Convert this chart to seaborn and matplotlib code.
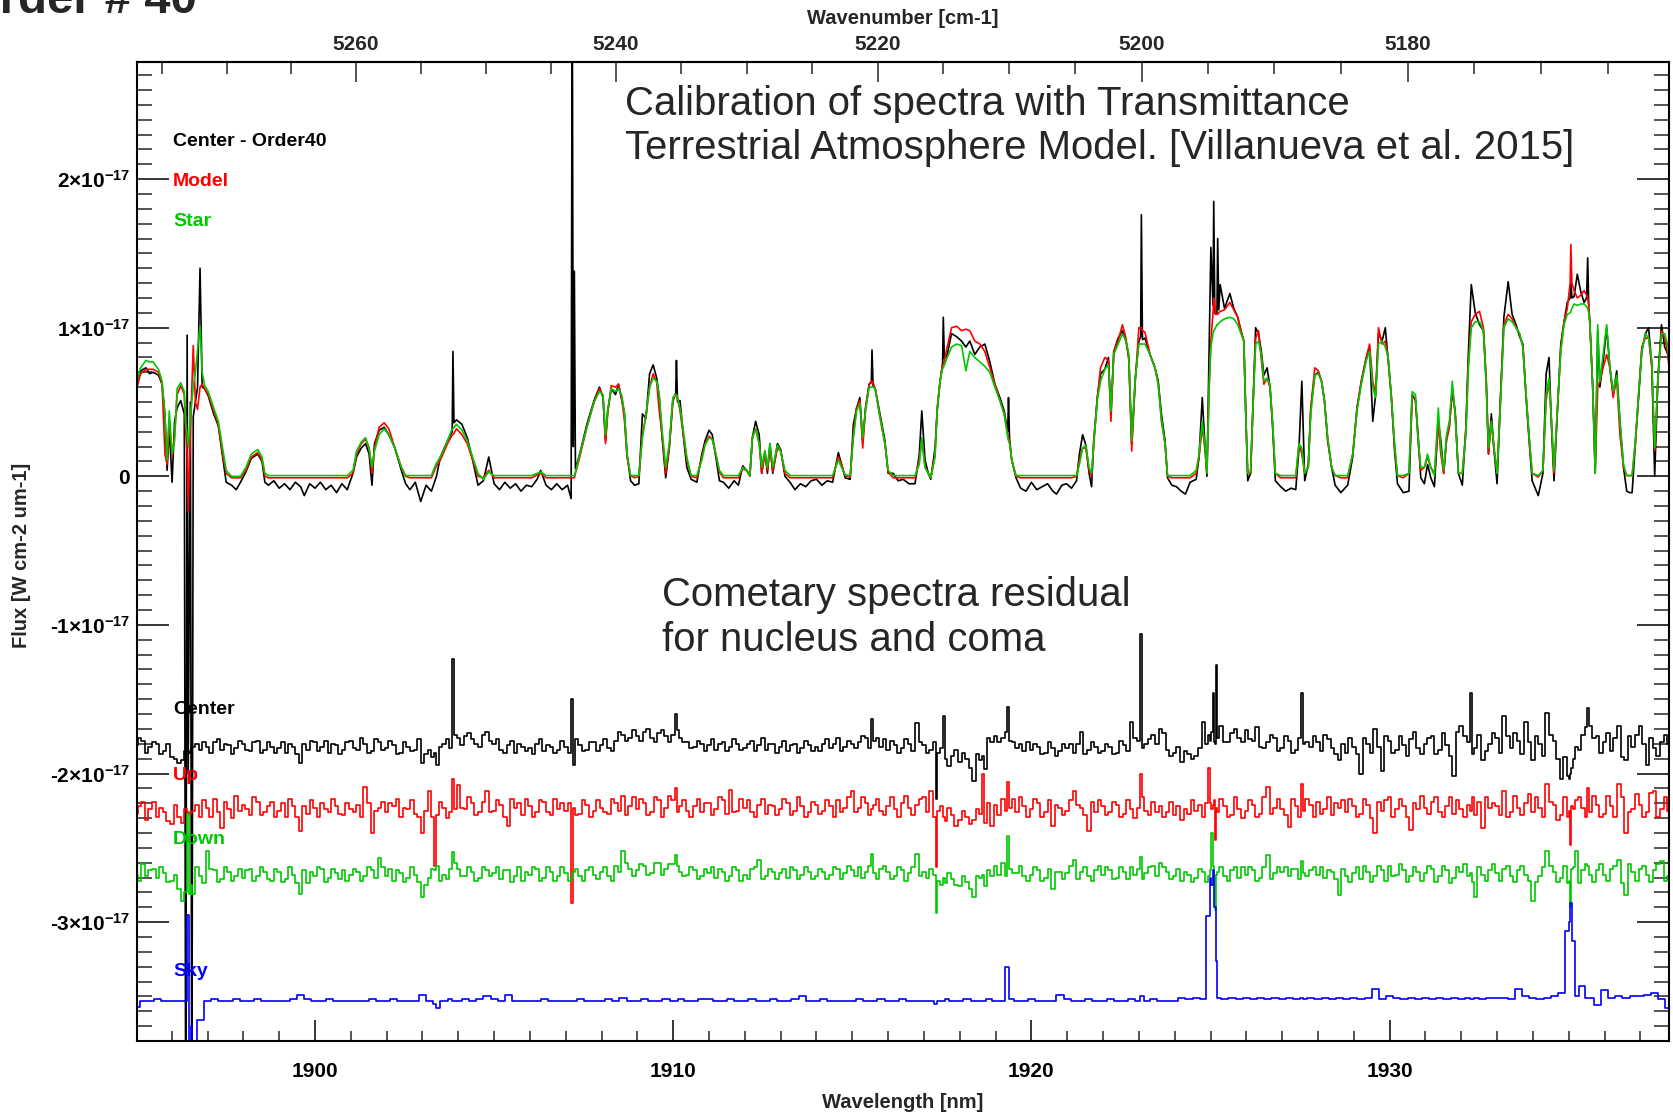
import numpy as np
import pandas as pd
import matplotlib
matplotlib.use("Agg")
import matplotlib.pyplot as plt
import seaborn as sns
from matplotlib.ticker import FixedLocator, MultipleLocator, FuncFormatter

# ---------------- data (flux in units of 1e-18 W cm-2 um-1) ----------------
SCALE = 1e-18

top_wl = [
    1895.03, 1895.13, 1895.28, 1895.38, 1895.48, 1895.63, 1895.73, 1895.81,
    1895.87, 1895.93, 1896.01, 1896.08, 1896.15, 1896.25, 1896.35, 1896.39,
    1896.43, 1896.46, 1896.52, 1896.56, 1896.60, 1896.66, 1896.72, 1896.79, 1896.85,
    1896.92, 1897.02, 1897.17, 1897.30, 1897.42, 1897.52, 1897.67, 1897.80,
    1897.92, 1898.07, 1898.22, 1898.40, 1898.52, 1898.60, 1898.70, 1898.85,
    1899.00, 1899.15, 1899.30, 1899.45, 1899.60, 1899.70, 1899.85, 1900.00,
    1900.15, 1900.30, 1900.45, 1900.60, 1900.75, 1900.90, 1901.06, 1901.16,
    1901.29, 1901.41, 1901.51, 1901.59, 1901.66, 1901.79, 1901.93, 1902.06,
    1902.23, 1902.41, 1902.53, 1902.65, 1902.80, 1902.95, 1903.10, 1903.25,
    1903.39, 1903.50, 1903.70, 1903.83, 1903.85, 1903.88, 1903.95, 1904.10,
    1904.25, 1904.40, 1904.55, 1904.70, 1904.85, 1905.00, 1905.15, 1905.30,
    1905.45, 1905.60, 1905.75, 1905.90, 1906.05, 1906.20, 1906.30, 1906.45,
    1906.60, 1906.75, 1906.90, 1907.05, 1907.15, 1907.18, 1907.21, 1907.24,
    1907.27, 1907.39, 1907.59, 1907.79, 1907.94, 1908.04, 1908.11, 1908.17,
    1908.27, 1908.39, 1908.47, 1908.57, 1908.64, 1908.71, 1908.81, 1908.92,
    1909.04, 1909.14, 1909.24, 1909.34, 1909.44, 1909.54, 1909.61, 1909.69,
    1909.79, 1909.89, 1909.99, 1910.07, 1910.09, 1910.12, 1910.19, 1910.28,
    1910.38, 1910.50, 1910.66, 1910.80, 1910.89, 1911.00, 1911.09, 1911.19,
    1911.29, 1911.40, 1911.55, 1911.70, 1911.82, 1911.94, 1912.05, 1912.14,
    1912.21, 1912.30, 1912.40, 1912.47, 1912.56, 1912.63, 1912.70, 1912.78,
    1912.91, 1913.00, 1913.12, 1913.26, 1913.40, 1913.55, 1913.70, 1913.85,
    1914.00, 1914.15, 1914.30, 1914.45, 1914.61, 1914.70, 1914.80, 1914.94,
    1915.03, 1915.12, 1915.21, 1915.29, 1915.37, 1915.47, 1915.53, 1915.55,
    1915.58, 1915.64, 1915.77, 1915.91, 1916.00, 1916.14, 1916.28, 1916.42,
    1916.58, 1916.75, 1916.87, 1916.94, 1917.03, 1917.12, 1917.19, 1917.31,
    1917.37, 1917.45, 1917.52, 1917.54, 1917.57, 1917.65, 1917.77, 1917.91,
    1918.05, 1918.17, 1918.28, 1918.42, 1918.56, 1918.70, 1918.84, 1918.98,
    1919.12, 1919.24, 1919.34, 1919.36, 1919.39, 1919.45, 1919.57, 1919.70,
    1919.85, 1920.00, 1920.15, 1920.30, 1920.45, 1920.60, 1920.70, 1920.85,
    1920.98, 1921.12, 1921.26, 1921.34, 1921.43, 1921.52, 1921.61, 1921.68,
    1921.74, 1921.84, 1921.93, 1922.05, 1922.15, 1922.22, 1922.30, 1922.42,
    1922.54, 1922.64, 1922.72, 1922.80, 1922.90, 1923.00, 1923.05, 1923.07,
    1923.10, 1923.17, 1923.31, 1923.45, 1923.54, 1923.63, 1923.73, 1923.80,
    1923.92, 1924.05, 1924.18, 1924.30, 1924.43, 1924.60, 1924.68, 1924.77,
    1924.85, 1924.90, 1924.96, 1925.01, 1925.07, 1925.09, 1925.12, 1925.14,
    1925.18, 1925.20, 1925.23, 1925.27, 1925.39, 1925.54, 1925.65, 1925.76,
    1925.85, 1925.93, 1925.99, 1926.04, 1926.12, 1926.17, 1926.26, 1926.34,
    1926.42, 1926.49, 1926.58, 1926.66, 1926.73, 1926.81, 1926.96, 1927.10,
    1927.25, 1927.38, 1927.47, 1927.55, 1927.63, 1927.73, 1927.80, 1927.91,
    1928.01, 1928.10, 1928.18, 1928.27, 1928.38, 1928.48, 1928.64, 1928.75,
    1928.83, 1928.97, 1929.09, 1929.21, 1929.35, 1929.44, 1929.53, 1929.61,
    1929.69, 1929.79, 1929.88, 1929.96, 1930.05, 1930.14, 1930.22, 1930.38,
    1930.54, 1930.63, 1930.72, 1930.80, 1930.87, 1930.97, 1931.06, 1931.15,
    1931.25, 1931.36, 1931.43, 1931.51, 1931.59, 1931.67, 1931.75, 1931.83,
    1931.92, 1932.03, 1932.13, 1932.20, 1932.28, 1932.39, 1932.51, 1932.62,
    1932.70, 1932.76, 1932.84, 1932.91, 1933.00, 1933.09, 1933.19, 1933.31,
    1933.42, 1933.53, 1933.63, 1933.72, 1933.81, 1933.91, 1933.98, 1934.15,
    1934.28, 1934.37, 1934.45, 1934.52, 1934.59, 1934.68, 1934.78, 1934.87,
    1934.96, 1935.04, 1935.06, 1935.09, 1935.15, 1935.24, 1935.34, 1935.43,
    1935.50, 1935.53, 1935.56, 1935.59, 1935.67, 1935.74, 1935.81, 1935.87,
    1935.96, 1936.06, 1936.15, 1936.24, 1936.34, 1936.43, 1936.53, 1936.62,
    1936.70, 1936.77, 1936.86, 1936.95, 1937.04, 1937.14, 1937.23, 1937.32,
    1937.40, 1937.49, 1937.59, 1937.68, 1937.77, 1937.87,
]

top_model = [
    6.0, 6.9, 7.2, 7.2, 7.2, 7.0, 6.2, 1.5,
    0.8, 3.7, 1.3, 2.8, 5.5, 6.1, 5.5, 3.0,
    1.5, -2.4, 3.0, 6.0, 8.8, 5.0, 4.5, 6.0, 6.2,
    5.9, 5.5, 4.4, 3.5, 1.5, 0.2, -0.1, -0.1,
    -0.1, 0.4, 1.3, 1.6, 1.1, 0.0, -0.1, -0.1,
    -0.1, -0.1, -0.1, -0.1, -0.1, -0.1, -0.1, -0.1,
    -0.1, -0.1, -0.1, -0.1, -0.1, -0.1, 0.2, 1.5,
    2.2, 2.5, 1.9, 0.2, 1.9, 3.3, 3.6, 3.2,
    1.9, 0.6, 0.0, -0.1, -0.1, -0.1, -0.1, -0.1,
    0.7, 1.1, 2.2, 2.8, 2.8, 2.9, 3.2, 2.8,
    2.2, 1.1, 0.0, -0.1, 0.4, -0.1, -0.1, -0.1,
    -0.1, -0.1, -0.1, -0.1, -0.1, 0.1, 0.2, -0.1,
    -0.1, -0.1, -0.1, -0.1, -0.1, -0.1, -0.1, -0.1,
    0.2, 1.3, 3.3, 5.0, 5.9, 5.4, 2.2, 4.2,
    6.1, 6.0, 6.2, 5.1, 3.7, 1.3, 0.05, -0.1,
    0.0, 2.8, 4.1, 6.0, 6.9, 6.3, 4.4, 2.8,
    0.2, 1.9, 5.1, 5.5, 5.5, 5.3, 4.4, 2.8,
    1.1, 0.0, -0.1, 1.3, 2.2, 2.7, 2.5, 1.5,
    0.3, -0.1, -0.1, -0.1, -0.1, 0.5, 0.4, 0.0,
    2.6, 3.2, 2.2, 0.2, 1.5, 0.4, 1.9, 0.3,
    1.9, 1.7, 0.2, -0.1, -0.1, -0.1, -0.1, -0.1,
    -0.1, -0.1, -0.1, -0.1, 1.3, 0.8, 0.05, -0.05,
    2.8, 4.6, 5.1, 1.9, 4.6, 6.2, 6.4, 6.4,
    6.3, 5.9, 4.0, 2.2, 0.3, -0.1, -0.1, -0.1,
    -0.1, -0.1, 1.1, 2.4, 0.6, 0.2, -0.1, 1.5,
    4.6, 6.4, 7.5, 7.5, 7.8, 8.7, 10.0, 10.1,
    9.8, 9.9, 9.8, 9.1, 8.9, 8.4, 7.3, 6.2,
    5.1, 4.2, 2.8, 2.6, 2.3, 1.1, 0.0, -0.1,
    -0.1, -0.1, -0.1, -0.1, -0.1, -0.1, -0.1, -0.1,
    -0.1, -0.1, 0.0, 1.1, 1.9, 1.9, 0.4, 0.0,
    2.2, 5.3, 7.3, 8.0, 7.8, 3.7, 8.4, 9.1,
    10.2, 9.3, 7.8, 1.7, 6.4, 10.0, 10.0, 10.0,
    9.8, 9.7, 8.2, 7.3, 6.2, 3.7, 2.2, 0.0,
    -0.1, -0.1, -0.1, -0.1, -0.1, 0.2, 1.3, 3.3,
    1.7, 0.2, 5.7, 9.1, 11.0, 12.0, 11.5, 10.9,
    10.9, 10.9, 11.0, 11.1, 11.2, 11.7, 11.2, 10.7,
    9.8, 9.1, 3.7, 0.2, 0.2, 3.7, 9.3, 9.8,
    7.8, 6.2, 6.6, 6.0, 3.7, 0.2, -0.1, -0.1,
    -0.1, -0.1, 2.2, 1.5, 0.2, 0.6, 4.6, 7.3,
    7.1, 6.4, 5.1, 2.6, 0.6, 0.05, -0.1, -0.1,
    -0.1, 1.5, 4.6, 6.4, 8.0, 8.9, 6.4, 5.5,
    10.0, 8.9, 9.1, 8.0, 5.3, 1.9, 0.05, -0.1,
    0.2, 5.3, 5.3, 2.2, 0.4, 0.6, 1.3, 0.6,
    0.2, 3.5, 1.5, 0.2, 2.4, 3.3, 6.0, 4.2,
    0.2, 0.2, 3.1, 7.8, 10.4, 10.9, 11.1, 10.0,
    6.4, 1.5, 3.7, 1.9, 0.2, 5.1, 10.2, 10.9,
    10.6, 10.0, 9.6, 8.7, 5.5, 2.2, 0.2, -0.05,
    0.4, 5.1, 6.4, 3.7, 0.2, 4.2, 8.7, 10.4,
    11.3, 13.0, 15.6, 13.0, 12.5, 12.0, 12.2, 12.5,
    12.2, 12.0, 11.5, 10.2, 6.0, 0.4, 6.0, 6.4,
    7.3, 8.2, 7.3, 5.3, 6.6, 2.8, 0.6, 0.05,
    0.05, 0.05, 2.2, 5.5, 8.7, 9.3, 9.3, 7.3,
    1.7, 6.4, 9.8, 9.3, 8.2, 5.3,
]

top_star = [
    6.4, 7.3, 7.8, 7.7, 7.7, 7.2, 6.4, 4.2,
    1.1, 4.4, 1.5, 2.4, 5.9, 6.3, 5.7, 3.5,
    2.8, 2.0, 4.0, 5.0, 6.0, 7.0, 8.5, 10.1, 7.0,
    6.1, 5.7, 4.6, 3.7, 1.9, 0.4, 0.0, 0.0,
    0.0, 0.6, 1.5, 1.8, 1.3, 0.2, 0.05, 0.05,
    0.05, 0.05, 0.05, 0.05, 0.05, 0.05, 0.05, 0.05,
    0.05, 0.05, 0.05, 0.05, 0.05, 0.05, 0.4, 1.7,
    2.3, 2.6, 1.9, 0.6, 1.7, 2.8, 3.2, 2.8,
    1.9, 0.6, 0.05, 0.05, 0.05, 0.05, 0.05, 0.05,
    0.9, 1.3, 2.4, 3.2, 3.2, 3.3, 3.5, 3.1,
    2.4, 1.3, 0.2, -0.2, 0.3, 0.05, 0.05, 0.05,
    0.05, 0.05, 0.05, 0.05, 0.05, 0.2, 0.3, 0.05,
    0.05, 0.05, 0.05, 0.05, 0.05, 0.05, 0.05, 0.05,
    0.3, 1.5, 3.3, 5.0, 5.7, 5.5, 2.8, 4.4,
    5.9, 5.7, 5.9, 5.4, 4.2, 1.5, 0.05, 0.05,
    0.05, 2.6, 4.1, 6.0, 6.6, 6.4, 5.5, 3.1,
    0.6, 2.2, 5.3, 5.5, 5.5, 5.2, 4.6, 3.1,
    1.3, 0.05, 0.05, 1.1, 2.1, 2.6, 2.5, 1.5,
    0.4, 0.05, 0.05, 0.05, 0.05, 0.6, 0.4, 0.05,
    2.6, 3.2, 2.2, 0.6, 1.7, 0.6, 2.2, 0.6,
    2.1, 1.7, 0.4, 0.05, 0.05, 0.05, 0.05, 0.05,
    0.05, 0.05, 0.05, 0.05, 1.1, 0.6, 0.1, 0.05,
    2.6, 4.4, 4.9, 2.6, 4.4, 6.0, 6.0, 6.0,
    6.0, 5.9, 4.0, 2.2, 0.4, 0.05, 0.05, 0.05,
    0.05, 0.05, 0.8, 2.6, 0.6, 0.2, -0.1, 1.3,
    4.6, 6.4, 7.3, 7.3, 7.5, 8.0, 8.7, 8.9,
    8.8, 7.1, 8.4, 8.0, 7.7, 7.4, 7.0, 6.0,
    5.1, 4.2, 2.6, 2.4, 2.2, 1.1, 0.05, 0.05,
    0.05, 0.05, 0.05, 0.05, 0.05, 0.05, 0.05, 0.05,
    0.05, 0.05, 0.05, 0.8, 1.9, 2.1, 0.6, 0.2,
    2.2, 5.1, 6.4, 7.2, 7.5, 4.4, 8.2, 8.9,
    9.6, 9.1, 8.2, 2.4, 6.6, 8.9, 8.9, 8.9,
    8.9, 8.9, 8.2, 7.3, 6.2, 3.9, 2.2, 0.05,
    0.05, 0.05, 0.05, 0.05, 0.05, 0.4, 1.5, 3.7,
    1.9, 0.2, 6.0, 8.7, 9.6, 9.8, 9.9, 10.0,
    10.2, 10.2, 10.3, 10.4, 10.6, 10.7, 10.6, 10.2,
    9.6, 9.1, 3.7, 0.2, 0.3, 3.7, 8.9, 9.1,
    8.2, 6.4, 6.6, 6.2, 3.7, 0.2, 0.05, 0.05,
    0.05, 0.05, 2.2, 1.9, 0.2, 0.6, 4.2, 6.8,
    6.9, 6.4, 5.1, 2.6, 0.6, 0.05, 0.05, 0.05,
    0.05, 1.5, 4.4, 6.2, 7.8, 8.4, 6.0, 5.3,
    8.9, 9.1, 8.7, 8.0, 5.3, 2.2, 0.05, 0.05,
    0.2, 5.7, 5.5, 2.4, 0.6, 0.6, 1.5, 0.6,
    0.05, 4.6, 1.9, 0.4, 2.8, 3.7, 6.4, 4.2,
    0.2, 0.2, 2.8, 7.3, 10.0, 10.4, 10.4, 9.8,
    6.0, 1.9, 3.7, 2.1, 0.2, 4.6, 10.0, 10.6,
    10.4, 10.0, 9.6, 8.7, 5.5, 2.2, 0.2, 0.05,
    0.4, 5.5, 6.6, 3.7, 0.4, 4.4, 8.4, 10.2,
    10.9, 11.0, 11.1, 11.3, 11.6, 11.5, 11.6, 11.6,
    11.4, 11.3, 11.0, 10.4, 6.0, 0.2, 10.2, 6.4,
    8.2, 10.2, 7.3, 5.7, 6.8, 3.7, 0.8, 0.05,
    0.05, 0.05, 2.4, 5.5, 8.4, 9.6, 9.3, 7.8,
    1.9, 6.6, 9.6, 9.6, 8.7, 6.2,
]

top_center = [
    6.2, 7.1, 7.3, 6.9, 7.0, 6.8, 6.2, 4.1,
    0.4, 3.3, -0.4, 3.7, 4.6, 5.1, 4.2, -45.0,
    9.5, -20.0, 5.0, -45.0, 4.0, 5.0, 6.0, 14.0, 6.0,
    5.9, 5.4, 4.2, 3.4, 1.3, -0.4, -0.6, -0.9,
    -0.4, 0.3, 1.2, 1.5, 1.0, -0.4, -0.6, -0.3,
    -0.8, -0.5, -0.9, -0.4, -0.7, -1.3, -0.5, -0.8,
    -0.4, -0.9, -0.6, -1.1, -0.5, -0.9, 0.2, 1.3,
    1.9, 2.2, 1.5, -0.6, 2.2, 3.1, 3.3, 2.8,
    1.9, 0.4, -0.5, -0.9, -0.4, -1.7, -0.6, -1.0,
    0.0, 1.3, 2.4, 3.0, 8.4, 3.6, 3.8, 3.5,
    2.6, 1.1, -0.6, -0.3, 1.3, -0.5, -0.9, -0.4,
    -0.8, -0.5, -1.0, -0.6, -0.7, -0.2, 0.4, -0.6,
    -0.9, -0.5, -0.9, -0.6, -1.5, 35.0, 2.0, 13.8,
    0.5, 1.5, 3.5, 5.1, 6.0, 5.3, 2.4, 4.4,
    5.9, 5.5, 6.2, 5.1, 4.2, 1.5, -0.3, -0.6,
    -0.5, 4.2, 3.9, 6.9, 7.5, 6.6, 5.3, 2.6,
    -0.1, 1.9, 5.1, 5.6, 7.8, 5.0, 5.1, 2.8,
    0.6, -0.2, -0.4, 1.5, 2.4, 3.1, 2.8, 1.3,
    -0.3, -0.4, -0.8, -0.3, -0.6, 0.7, 0.4, 0.05,
    2.6, 3.7, 2.8, 0.2, 1.7, 0.2, 2.2, 0.2,
    2.2, 1.8, 0.0, -0.4, -0.9, -0.5, -0.7, -0.3,
    -0.2, -0.6, -0.3, -0.4, 1.6, 0.8, -0.1, -0.2,
    3.5, 4.6, 5.3, 2.4, 4.6, 6.2, 6.3, 8.5,
    6.1, 5.9, 4.2, 2.4, 0.2, 0.2, -0.3, -0.2,
    -0.5, -0.5, 1.5, 4.4, 1.1, 0.2, -0.2, 1.9,
    4.4, 6.4, 7.6, 10.7, 7.9, 8.2, 9.6, 9.4,
    9.1, 8.7, 9.1, 8.2, 8.7, 8.9, 7.7, 6.2,
    5.3, 4.4, 3.0, 5.3, 2.5, 1.1, -0.1, -0.8,
    -1.0, -0.4, -0.9, -0.7, -0.5, -1.0, -1.2, -0.6,
    -0.5, -0.8, -0.3, 1.5, 2.8, 2.1, 0.2, -0.7,
    2.4, 5.3, 6.9, 7.2, 8.0, 4.2, 8.4, 9.3,
    9.8, 9.1, 8.0, 2.2, 6.6, 9.1, 9.4, 17.6,
    9.2, 9.3, 8.2, 7.3, 6.4, 4.2, 2.4, -0.1,
    -0.6, -0.7, -1.0, -1.2, -0.4, -0.2, 1.3, 5.3,
    1.9, 0.0, 8.2, 15.4, 11.5, 18.5, 11.0, 10.9,
    11.0, 16.0, 11.2, 12.9, 11.3, 12.3, 11.3, 10.7,
    9.8, 9.1, 3.7, -0.3, 0.2, 3.7, 10.0, 9.6,
    8.4, 6.8, 7.3, 6.0, 3.5, -0.3, -0.7, -1.0,
    -0.8, -0.9, 1.9, 6.4, -0.3, 0.8, 4.6, 6.8,
    7.0, 6.4, 5.1, 2.4, 0.6, -0.6, -1.1, -0.8,
    -0.6, 1.3, 4.6, 6.4, 8.0, 8.7, 3.7, 5.5,
    9.6, 9.1, 10.0, 7.8, 5.3, 1.7, -0.5, -1.1,
    -1.0, 5.5, 5.1, 2.6, -0.1, -0.5, 0.8, -0.1,
    -0.7, 3.7, 2.4, 0.2, 2.6, 3.5, 5.7, 4.4,
    0.2, -0.6, 3.3, 8.4, 12.9, 11.0, 10.2, 9.8,
    6.2, 1.5, 4.2, 1.9, -0.5, 4.9, 10.7, 13.1,
    10.9, 10.2, 9.4, 8.9, 5.3, 1.9, -0.3, -1.3,
    0.2, 6.9, 8.0, 3.3, -0.3, 4.2, 8.9, 10.4,
    11.7, 12.0, 13.1, 12.0, 12.1, 13.6, 12.4, 11.7,
    12.0, 14.7, 11.3, 10.4, 6.0, 0.2, 9.8, 6.0,
    7.7, 10.0, 7.3, 5.5, 7.1, 3.7, 0.6, -1.0,
    -1.1, -1.1, 2.2, 5.3, 8.4, 9.6, 10.0, 7.5,
    0.0, 6.6, 10.2, 8.7, 8.2, 6.4,
]

res_wl = [
    1895.0, 1895.2, 1895.4, 1895.6, 1895.8,
    1896.0, 1896.2, 1896.4, 1896.45, 1896.5, 1896.55, 1896.6, 1896.8,
    1897.0, 1897.2, 1897.4, 1897.6, 1897.8,
    1898.0, 1898.2, 1898.4, 1898.6, 1898.8,
    1899.0, 1899.2, 1899.4, 1899.6, 1899.8,
    1900.0, 1900.2, 1900.4, 1900.6, 1900.8,
    1901.0, 1901.2, 1901.4, 1901.6, 1901.8,
    1902.0, 1902.2, 1902.4, 1902.6, 1902.8,
    1903.0, 1903.2, 1903.37, 1903.4, 1903.6, 1903.8, 1903.85,
    1904.0, 1904.2, 1904.4, 1904.6, 1904.8,
    1905.0, 1905.2, 1905.4, 1905.6, 1905.8,
    1906.0, 1906.2, 1906.4, 1906.6, 1906.8,
    1907.0, 1907.19, 1907.2, 1907.4, 1907.6, 1907.8,
    1908.0, 1908.2, 1908.4, 1908.6, 1908.8,
    1909.0, 1909.2, 1909.4, 1909.6, 1909.8,
    1910.0, 1910.09, 1910.2, 1910.4, 1910.6, 1910.8,
    1911.0, 1911.2, 1911.4, 1911.6, 1911.8,
    1912.0, 1912.2, 1912.4, 1912.6, 1912.8,
    1913.0, 1913.2, 1913.4, 1913.6, 1913.8,
    1914.0, 1914.2, 1914.4, 1914.6, 1914.8,
    1915.0, 1915.2, 1915.4, 1915.55, 1915.6, 1915.8,
    1916.0, 1916.2, 1916.4, 1916.6, 1916.8,
    1917.0, 1917.2, 1917.35, 1917.4, 1917.55, 1917.6, 1917.8,
    1918.0, 1918.2, 1918.4, 1918.6, 1918.65, 1918.8,
    1919.0, 1919.2, 1919.35, 1919.4, 1919.6, 1919.8,
    1920.0, 1920.2, 1920.4, 1920.6, 1920.8,
    1921.0, 1921.2, 1921.4, 1921.6, 1921.8,
    1922.0, 1922.2, 1922.4, 1922.6, 1922.8,
    1923.0, 1923.09, 1923.2, 1923.4, 1923.6, 1923.8,
    1924.0, 1924.2, 1924.4, 1924.6, 1924.8, 1924.95,
    1925.0, 1925.05, 1925.09, 1925.13, 1925.17, 1925.2, 1925.4, 1925.6, 1925.8,
    1926.0, 1926.2, 1926.4, 1926.6, 1926.8,
    1927.0, 1927.2, 1927.4, 1927.57, 1927.6, 1927.8,
    1928.0, 1928.2, 1928.4, 1928.6, 1928.8,
    1929.0, 1929.2, 1929.4, 1929.6, 1929.8,
    1930.0, 1930.2, 1930.4, 1930.6, 1930.8,
    1931.0, 1931.2, 1931.4, 1931.6, 1931.8,
    1932.0, 1932.2, 1932.29, 1932.4, 1932.6, 1932.8,
    1933.0, 1933.2, 1933.4, 1933.6, 1933.8,
    1934.0, 1934.2, 1934.4, 1934.6, 1934.8, 1934.99,
    1935.0, 1935.05, 1935.13, 1935.2, 1935.4, 1935.53, 1935.6, 1935.8,
    1936.0, 1936.2, 1936.4, 1936.6, 1936.8,
    1937.0, 1937.2, 1937.4, 1937.6, 1937.8,
]

res_center = [
    -18.1, -17.8, -18.2, -18.0, -18.5,
    -18.9, -19.3, -18.5, -18.5, -18.6, -18.3, -18.2, -18.4,
    -18.2, -17.9, -18.4, -18.1, -18.3,
    -18.0, -18.5, -17.8, -18.4, -18.2,
    -18.3, -18.6, -18.2, -19.3, -18.4,
    -17.9, -18.2, -18.6, -18.1, -18.4,
    -17.8, -18.4, -18.0, -18.5, -17.9,
    -18.3, -18.1, -18.6, -18.2, -18.4,
    -19.3, -18.4, -18.6, -19.4, -18.0, -18.3, -12.3,
    -17.6, -17.5, -17.7, -18.2, -17.2,
    -18.0, -18.4, -18.1, -18.6, -18.2,
    -18.3, -18.0, -18.5, -18.2, -18.4,
    -18.2, -15.0, -19.4, -18.1, -18.4, -17.9,
    -18.1, -18.3, -17.8, -17.4, -17.6,
    -17.5, -17.2, -17.6, -17.3, -17.5,
    -17.4, -16.0, -17.6, -17.9, -18.2, -18.0,
    -18.1, -18.4, -17.9, -18.2, -18.0,
    -18.3, -17.8, -18.1, -18.4, -18.0,
    -18.2, -18.5, -18.0, -18.3, -18.1,
    -18.2, -18.0, -18.3, -17.6, -18.2,
    -18.0, -17.9, -17.6, -16.3, -17.8, -18.2,
    -18.4, -18.1, -18.3, -18.0, -16.6,
    -18.1, -18.4, -21.7, -18.6, -16.1, -19.0, -18.8,
    -19.2, -19.0, -20.5, -19.1, -18.8, -17.6,
    -17.5, -17.6, -15.5, -17.8, -18.3, -18.5,
    -18.4, -18.2, -18.6, -18.3, -18.5,
    -18.3, -18.6, -17.2, -18.4, -18.2,
    -18.5, -18.2, -18.6, -18.1, -16.5,
    -17.8, -10.6, -18.0, -17.4, -17.0, -18.4,
    -18.6, -19.2, -18.7, -18.8, -16.5, -17.4,
    -17.8, -17.2, -14.6, -18.0, -12.7, -17.6, -17.9, -17.3, -17.6,
    -17.1, -17.8, -18.2, -17.9, -17.6,
    -18.3, -17.8, -18.4, -14.6, -18.0, -18.2,
    -17.9, -17.4, -18.3, -19.1, -18.6,
    -18.2, -20.0, -18.0, -17.0, -19.8,
    -17.8, -18.4, -18.1, -17.7, -18.3,
    -18.0, -17.5, -18.4, -18.1, -20.2,
    -16.8, -17.9, -14.6, -18.3, -19.1, -18.0,
    -17.6, -16.1, -18.3, -17.8, -16.5,
    -19.1, -18.0, -15.9, -17.8, -20.4, -20.2,
    -20.4, -20.0, -19.0, -18.2, -17.4, -15.6, -16.8, -17.5,
    -17.9, -18.5, -16.8, -19.1, -18.2,
    -16.8, -19.4, -18.3, -17.9, -18.0,
]

res_up = [
    -22.7, -21.9, -22.4, -22.9, -22.6,
    -23.4, -22.9, -22.4, -22.6, -22.7, -22.6, -22.5, -22.9,
    -22.3, -21.7, -23.7, -22.4, -21.5,
    -22.1, -22.8, -21.9, -22.6, -21.9,
    -22.5, -22.9, -22.2, -23.9, -22.7,
    -22.3, -22.0, -22.6, -22.2, -22.8,
    -22.4, -22.1, -20.9, -24.0, -22.3,
    -22.6, -22.2, -22.9, -22.4, -22.7,
    -24.0, -21.2, -26.2, -22.8, -22.3, -22.6, -20.4,
    -20.8, -22.4, -22.0, -22.6, -21.2,
    -22.5, -22.1, -23.5, -22.3, -22.8,
    -22.2, -22.6, -21.9, -22.8, -22.4,
    -22.5, -28.7, -22.3, -22.7, -22.1, -22.5,
    -22.3, -22.7, -22.0, -21.5, -22.2,
    -22.4, -22.0, -22.6, -21.8, -22.3,
    -21.8, -21.0, -22.2, -22.5, -22.2, -22.6,
    -22.0, -22.4, -21.8, -21.1, -22.5,
    -22.3, -22.6, -22.1, -22.7, -22.2,
    -22.4, -22.0, -22.5, -22.2, -22.6,
    -22.1, -22.5, -22.2, -21.8, -22.3,
    -21.2, -22.3, -22.0, -22.4, -22.1, -22.5,
    -22.2, -22.4, -22.0, -22.3, -22.1,
    -21.6, -21.2, -26.3, -22.5, -22.9, -23.2, -22.8,
    -23.1, -22.9, -23.1, -22.7, -20.0, -22.0,
    -22.1, -21.7, -20.6, -22.3, -22.6, -22.2,
    -22.4, -22.0, -22.6, -23.5, -22.3,
    -22.5, -21.2, -22.3, -23.9, -22.6,
    -22.2, -22.6, -22.1, -22.7, -22.4,
    -22.3, -20.0, -22.5, -21.9, -22.2, -22.6,
    -22.8, -23.1, -22.7, -22.5, -22.9, -19.6,
    -22.0, -22.4, -22.1, -24.5, -22.3, -22.6, -22.2, -22.8, -22.4,
    -22.5, -22.1, -22.7, -20.9, -22.3,
    -22.4, -23.6, -22.2, -20.7, -22.5, -22.1,
    -21.9, -22.4, -22.8, -22.3, -22.6,
    -22.2, -22.7, -22.1, -24.0, -22.5,
    -21.6, -22.4, -22.2, -23.8, -22.4,
    -22.3, -21.9, -22.6, -22.2, -22.7,
    -22.4, -22.1, -22.5, -22.8, -23.7, -22.3,
    -22.2, -21.2, -22.6, -22.3, -22.0,
    -22.6, -22.3, -20.7, -22.1, -22.8, -22.9,
    -22.5, -24.8, -22.4, -21.8, -22.3, -21.0, -22.6, -22.1,
    -22.7, -22.2, -20.7, -24.0, -22.4,
    -22.1, -22.6, -21.2, -22.4, -22.5,
]

res_down = [
    -26.8, -26.1, -26.5, -27.0, -26.7,
    -27.2, -27.8, -28.0, -22.7, -28.1, -27.5, -28.1, -26.9,
    -25.2, -26.5, -27.1, -26.6, -26.9,
    -27.0, -26.4, -26.9, -26.6, -27.2,
    -26.6, -27.1, -26.8, -28.1, -27.4,
    -26.9, -26.4, -27.0, -26.7, -26.5,
    -26.8, -26.6, -26.9, -26.5, -25.7,
    -26.9, -27.2, -26.7, -27.0, -26.8,
    -28.3, -27.0, -26.5, -26.2, -26.8, -26.4, -25.3,
    -26.4, -26.9, -26.6, -27.0, -26.5,
    -26.7, -27.1, -26.5, -26.9, -27.2,
    -26.8, -26.4, -27.0, -26.6, -26.9,
    -26.7, -27.0, -26.6, -26.9, -26.5, -26.8,
    -26.6, -26.9, -26.2, -25.2, -26.4,
    -26.5, -26.2, -26.7, -26.0, -26.4,
    -26.1, -25.5, -26.6, -26.8, -26.5, -26.9,
    -26.7, -27.0, -26.6, -26.9, -26.5,
    -26.8, -26.4, -25.8, -26.9, -26.6,
    -26.7, -27.0, -26.5, -26.8, -26.6,
    -26.9, -26.6, -26.8, -26.4, -26.7,
    -26.5, -26.3, -26.6, -25.4, -26.7, -26.4,
    -26.6, -26.9, -26.5, -26.7, -25.4,
    -26.6, -26.4, -29.4, -27.2, -27.0, -27.4, -27.1,
    -27.6, -27.3, -28.3, -27.0, -26.8, -26.5,
    -26.2, -26.0, -24.2, -26.4, -26.7, -26.9,
    -26.8, -26.5, -27.0, -27.8, -26.6,
    -26.7, -25.8, -26.6, -26.9, -26.5,
    -26.8, -26.5, -27.0, -26.6, -26.3,
    -26.4, -25.6, -26.7, -26.2, -26.0, -26.6,
    -26.9, -27.2, -26.8, -27.0, -26.6, -26.9,
    -26.5, -24.0, -26.2, -29.2, -26.8, -26.6, -26.9, -26.5, -27.0,
    -26.8, -26.5, -27.0, -25.5, -26.7,
    -26.6, -26.9, -26.4, -25.9, -26.7, -26.5,
    -26.8, -27.0, -26.6, -28.2, -26.9,
    -26.7, -27.1, -26.6, -26.9, -26.5,
    -26.2, -26.8, -26.5, -26.9, -26.6,
    -26.7, -26.4, -26.9, -26.5, -27.0,
    -26.6, -26.9, -26.7, -28.3, -26.8, -26.5,
    -26.7, -26.4, -26.9, -26.5, -26.8,
    -28.6, -26.9, -25.2, -26.6, -27.0, -27.4,
    -27.2, -29.0, -26.3, -25.2, -26.5, -26.2, -26.8, -26.5,
    -26.8, -26.4, -25.8, -28.2, -26.6,
    -26.4, -26.8, -26.5, -25.9, -26.9,
]

res_sky = [
    -35.7, -35.3, -35.3, -35.2, -35.3,
    -35.3, -35.3, -35.3, -29.5, -39.0, -37.0, -39.0, -36.6,
    -35.3, -35.2, -35.3, -35.3, -35.2,
    -35.3, -35.3, -35.2, -35.3, -35.3,
    -35.3, -35.3, -35.2, -34.9, -35.2,
    -35.3, -35.3, -35.2, -35.3, -35.3,
    -35.3, -35.3, -35.3, -35.2, -35.3,
    -35.3, -35.2, -35.3, -35.3, -35.3,
    -34.9, -35.3, -35.5, -35.8, -35.3, -35.2, -35.3,
    -35.3, -35.2, -35.3, -35.2, -35.0,
    -35.2, -35.3, -34.9, -35.3, -35.3,
    -35.3, -35.3, -35.2, -35.3, -35.3,
    -35.3, -35.3, -35.3, -35.2, -35.3, -35.3,
    -35.3, -35.2, -35.3, -35.1, -35.3,
    -35.3, -35.2, -35.3, -35.3, -35.2,
    -35.3, -35.3, -35.2, -35.3, -35.3, -35.2,
    -35.2, -35.3, -35.3, -35.2, -35.3,
    -35.3, -35.2, -35.3, -35.3, -35.2,
    -35.3, -35.3, -35.2, -35.0, -35.3,
    -35.3, -35.2, -35.3, -35.3, -35.3,
    -35.3, -35.2, -35.3, -35.3, -35.3, -35.2,
    -35.3, -35.3, -35.2, -35.3, -35.3,
    -35.3, -35.3, -35.5, -35.3, -35.3, -35.2, -35.3,
    -35.3, -35.2, -35.3, -35.3, -35.3, -35.2,
    -35.3, -35.3, -33.0, -35.2, -35.3, -35.3,
    -35.2, -35.3, -35.3, -35.3, -34.9,
    -35.2, -35.3, -35.3, -35.2, -35.3,
    -35.3, -35.2, -35.3, -35.3, -35.2,
    -35.3, -35.0, -35.3, -35.2, -35.3, -35.3,
    -35.3, -35.1, -35.2, -35.1, -35.2, -29.6,
    -27.0, -27.5, -26.5, -29.0, -32.6, -35.1, -35.2, -35.1, -35.2,
    -35.1, -35.2, -35.1, -35.2, -35.1,
    -35.2, -35.1, -35.2, -35.1, -35.2, -35.1,
    -35.2, -35.1, -35.2, -35.1, -35.2,
    -35.1, -35.2, -35.1, -34.5, -35.2,
    -35.0, -35.1, -35.2, -35.1, -35.2,
    -35.1, -35.2, -35.1, -35.2, -35.1,
    -35.2, -35.1, -35.2, -35.1, -35.2, -35.1,
    -35.1, -35.1, -35.2, -34.5, -35.0,
    -35.1, -35.2, -35.1, -35.0, -34.8, -30.6,
    -30.0, -28.7, -31.3, -35.0, -34.3, -35.1, -35.1, -35.6,
    -34.6, -35.1, -35.0, -35.1, -35.0,
    -35.0, -34.9, -34.8, -35.2, -35.8,
]

# extra in-between samples of the three noisy residual spectra
res_mid_wl = [
    1895.1, 1895.3, 1895.5, 1895.7, 1895.9,
    1896.1, 1896.3, 1896.7, 1896.9,
    1897.1, 1897.3, 1897.5, 1897.7, 1897.9,
    1898.1, 1898.3, 1898.5, 1898.7, 1898.9,
    1899.1, 1899.3, 1899.5, 1899.7, 1899.9,
    1900.1, 1900.3, 1900.5, 1900.7, 1900.9,
    1901.1, 1901.3, 1901.5, 1901.7, 1901.9,
    1902.1, 1902.3, 1902.5, 1902.7, 1902.9,
    1903.1, 1903.3, 1903.5, 1903.7, 1903.9,
    1904.1, 1904.3, 1904.5, 1904.7, 1904.9,
    1905.1, 1905.3, 1905.5, 1905.7, 1905.9,
    1906.1, 1906.3, 1906.5, 1906.7, 1906.9,
    1907.1, 1907.3, 1907.5, 1907.7, 1907.9,
    1908.1, 1908.3, 1908.5, 1908.7, 1908.9,
    1909.1, 1909.3, 1909.5, 1909.7, 1909.9,
    1910.1, 1910.3, 1910.5, 1910.7, 1910.9,
    1911.1, 1911.3, 1911.5, 1911.7, 1911.9,
    1912.1, 1912.3, 1912.5, 1912.7, 1912.9,
    1913.1, 1913.3, 1913.5, 1913.7, 1913.9,
    1914.1, 1914.3, 1914.5, 1914.7, 1914.9,
    1915.1, 1915.3, 1915.5, 1915.7, 1915.9,
    1916.1, 1916.3, 1916.5, 1916.7, 1916.9,
    1917.1, 1917.3, 1917.5, 1917.7, 1917.9,
    1918.1, 1918.3, 1918.5, 1918.7, 1918.9,
    1919.1, 1919.3, 1919.5, 1919.7, 1919.9,
    1920.1, 1920.3, 1920.5, 1920.7, 1920.9,
    1921.1, 1921.3, 1921.5, 1921.7, 1921.9,
    1922.1, 1922.3, 1922.5, 1922.7, 1922.9,
    1923.1, 1923.3, 1923.5, 1923.7, 1923.9,
    1924.1, 1924.3, 1924.5, 1924.7, 1924.9,
    1925.1, 1925.3, 1925.5, 1925.7, 1925.9,
    1926.1, 1926.3, 1926.5, 1926.7, 1926.9,
    1927.1, 1927.3, 1927.5, 1927.7, 1927.9,
    1928.1, 1928.3, 1928.5, 1928.7, 1928.9,
    1929.1, 1929.3, 1929.5, 1929.7, 1929.9,
    1930.1, 1930.3, 1930.5, 1930.7, 1930.9,
    1931.1, 1931.3, 1931.5, 1931.7, 1931.9,
    1932.1, 1932.3, 1932.5, 1932.7, 1932.9,
    1933.1, 1933.3, 1933.5, 1933.7, 1933.9,
    1934.1, 1934.3, 1934.5, 1934.7, 1934.9,
    1935.1, 1935.3, 1935.5, 1935.7, 1935.9,
    1936.1, 1936.3, 1936.5, 1936.7, 1936.9,
    1937.1, 1937.3, 1937.5, 1937.7,
]

res_mid_center = [
    -17.6, -18.6, -17.9, -18.7, -18.0,
    -19.0, -19.1, -18.0, -17.9,
    -18.6, -17.7, -18.0, -18.7, -17.8,
    -18.4, -17.9, -18.6, -17.9, -18.6,
    -17.9, -18.0, -18.7, -18.0, -17.8,
    -18.5, -17.8, -18.0, -18.7, -17.9,
    -18.3, -17.6, -18.6, -17.7, -18.4,
    -17.8, -18.7, -17.9, -18.5, -17.7,
    -18.7, -18.9, -18.2, -17.7, -17.4,
    -18.1, -17.3, -18.0, -17.4, -17.8,
    -17.7, -18.6, -17.8, -18.0, -18.5,
    -18.7, -17.7, -18.1, -18.6, -17.8,
    -18.6, -17.7, -18.5, -17.9, -18.5,
    -17.7, -18.5, -17.2, -17.8, -17.1,
    -17.8, -17.0, -17.9, -17.1, -17.9,
    -17.1, -17.9, -18.3, -17.8, -18.5,
    -17.7, -18.0, -18.5, -17.7, -18.4,
    -18.0, -18.5, -17.6, -18.0, -18.6,
    -17.8, -18.1, -18.6, -17.8, -18.5,
    -18.5, -17.7, -18.0, -18.5, -17.8,
    -18.3, -17.5, -18.3, -17.6, -17.7,
    -17.8, -18.6, -17.7, -18.5, -17.9,
    -18.6, -17.9, -18.3, -19.5, -18.4,
    -18.6, -19.6, -18.7, -19.7, -17.9,
    -17.9, -17.2, -17.9, -18.0, -17.9,
    -18.0, -18.7, -17.9, -18.8, -18.0,
    -18.0, -18.0, -18.7, -17.9, -18.6,
    -18.0, -18.7, -17.8, -18.5, -17.6,
    -18.3, -17.7, -18.0, -17.3, -18.8,
    -18.2, -18.5, -19.0, -18.3, -18.0,
    -17.9, -16.8, -17.9, -17.0, -17.9,
    -17.7, -16.9, -18.3, -17.4, -18.5,
    -17.5, -18.6, -17.6, -17.9, -17.5,
    -18.5, -17.7, -18.7, -18.0, -17.6,
    -18.7, -17.6, -18.6, -18.2, -17.5,
    -18.6, -17.5, -18.8, -17.2, -18.7,
    -17.6, -18.7, -17.3, -18.8, -17.2,
    -17.5, -18.7, -17.4, -18.5, -17.3,
    -18.6, -17.5, -17.3, -18.7, -17.9,
    -17.5, -18.8, -17.4, -19.0, -18.9,
    -19.6, -18.4, -16.9, -17.6, -18.6,
    -17.3, -17.6, -18.9, -17.5, -17.4,
    -18.0, -17.6, -18.8, -17.4,
]

res_mid_up = [
    -22.2, -23.1, -21.9, -22.3, -23.2,
    -22.1, -23.3, -22.1, -21.8,
    -22.9, -22.6, -21.9, -23.0, -22.5,
    -22.4, -21.6, -22.8, -22.2, -22.9,
    -22.0, -21.7, -22.9, -22.2, -21.8,
    -22.9, -22.4, -21.7, -22.7, -22.0,
    -22.6, -22.9, -22.0, -22.5, -21.9,
    -22.0, -21.7, -22.3, -21.8, -22.9,
    -22.5, -22.9, -21.9, -23.0, -22.4,
    -22.3, -21.6, -22.8, -21.9, -22.6,
    -21.8, -22.9, -21.7, -22.0, -21.7,
    -22.9, -21.8, -22.6, -21.7, -22.0,
    -22.0, -22.8, -21.8, -22.9, -21.8,
    -22.6, -21.7, -22.5, -22.8, -21.6,
    -21.7, -22.8, -21.6, -22.9, -21.5,
    -22.6, -21.8, -22.9, -21.7, -22.0,
    -22.8, -21.6, -22.7, -22.6, -21.7,
    -21.8, -22.9, -21.7, -22.1, -22.8,
    -21.7, -22.8, -21.6, -22.9, -21.9,
    -22.7, -21.8, -22.9, -22.6, -21.6,
    -22.6, -21.6, -22.8, -21.7, -22.8,
    -21.6, -22.9, -21.5, -22.8, -21.7,
    -22.6, -22.9, -22.2, -22.3, -23.5,
    -22.5, -23.4, -22.4, -23.3, -23.5,
    -22.8, -22.5, -21.7, -21.6, -22.9,
    -21.7, -22.9, -21.8, -22.1, -22.8,
    -21.8, -22.1, -22.8, -21.9, -21.8,
    -22.8, -21.9, -22.9, -21.8, -23.0,
    -21.6, -22.8, -22.6, -22.9, -21.9,
    -22.2, -22.4, -21.8, -22.1, -22.0,
    -21.8, -21.7, -22.9, -21.6, -23.0,
    -21.8, -22.9, -21.6, -22.7, -21.7,
    -22.8, -21.7, -22.9, -21.7, -22.9,
    -22.7, -21.6, -22.0, -21.8, -21.7,
    -22.9, -21.7, -23.0, -21.9, -21.8,
    -22.9, -21.7, -22.9, -22.0, -21.5,
    -22.7, -21.6, -22.9, -21.6, -21.8,
    -22.9, -21.6, -21.9, -21.6, -22.0,
    -22.8, -22.9, -21.5, -22.8, -21.4,
    -21.6, -22.9, -21.9, -23.1, -21.6,
    -22.2, -21.6, -22.9, -21.5, -22.9,
    -21.5, -22.9, -21.6, -22.6, -21.4,
    -22.9, -21.3, -22.9, -21.6,
]

res_mid_down = [
    -27.2, -26.9, -26.4, -26.3, -27.3,
    -26.8, -28.6, -26.3, -27.4,
    -26.4, -27.3, -26.3, -27.2, -26.4,
    -26.5, -27.2, -26.3, -27.1, -26.4,
    -27.3, -26.3, -27.4, -26.5, -26.6,
    -26.3, -27.3, -26.4, -27.1, -27.2,
    -26.4, -27.2, -26.3, -27.0, -26.3,
    -26.4, -26.5, -27.3, -26.3, -27.3,
    -27.5, -26.4, -27.2, -27.1, -26.0,
    -26.9, -26.3, -27.2, -26.3, -26.9,
    -26.3, -26.5, -27.3, -26.3, -26.6,
    -26.3, -27.2, -26.3, -27.2, -26.3,
    -27.2, -26.4, -27.2, -26.3, -27.1,
    -26.3, -27.2, -26.6, -26.0, -26.9,
    -26.1, -26.8, -26.0, -26.8, -26.1,
    -26.2, -26.9, -26.3, -27.1, -26.4,
    -26.3, -26.4, -27.2, -26.3, -27.2,
    -27.1, -26.3, -27.1, -26.4, -27.1,
    -26.4, -26.3, -27.1, -26.3, -27.1,
    -26.4, -27.1, -26.3, -27.1, -26.2,
    -26.9, -27.0, -26.2, -27.1, -26.2,
    -27.1, -26.3, -27.2, -26.3, -26.9,
    -27.0, -26.8, -27.5, -26.7, -27.5,
    -26.9, -27.8, -26.9, -27.6, -26.9,
    -26.8, -26.9, -26.7, -26.2, -27.2,
    -26.3, -27.2, -26.4, -26.6, -27.1,
    -26.2, -27.1, -26.3, -27.2, -26.2,
    -26.3, -27.1, -26.3, -27.1, -26.8,
    -27.1, -26.3, -26.9, -26.3, -27.1,
    -26.4, -26.6, -27.3, -26.4, -27.3,
    -26.9, -26.3, -27.2, -26.3, -26.3,
    -26.3, -27.2, -26.3, -27.1, -26.3,
    -26.3, -26.4, -27.1, -26.9, -26.3,
    -26.3, -26.5, -27.1, -26.4, -27.3,
    -26.3, -26.2, -27.3, -26.2, -27.2,
    -26.9, -26.1, -27.3, -26.3, -27.2,
    -26.2, -27.3, -26.2, -27.4, -26.3,
    -26.1, -27.3, -26.3, -27.2, -26.1,
    -27.2, -26.2, -27.3, -26.2, -27.2,
    -27.3, -26.3, -26.2, -27.3, -26.2,
    -26.4, -27.4, -26.1, -27.3, -26.1,
    -27.2, -26.2, -27.4, -26.1, -27.2,
    -26.2, -27.3, -26.1, -27.2,
]

y_major = [-3, -2, -1, 0, 1, 2]          # in units of 1e-17
wn_major = [5260, 5240, 5220, 5200, 5180]
wl_major = [1900, 1910, 1920, 1930]

for _a, _b in [(top_wl, top_model), (top_wl, top_star), (top_wl, top_center),
               (res_wl, res_center), (res_wl, res_up), (res_wl, res_down),
               (res_wl, res_sky), (res_mid_wl, res_mid_center),
               (res_mid_wl, res_mid_up), (res_mid_wl, res_mid_down)]:
    assert len(_a) == len(_b), (len(_a), len(_b))

# ---------------- styling ----------------
sns.set_theme(style="ticks")
plt.rcParams["font.family"] = ["Liberation Sans", "DejaVu Sans"]
plt.rcParams["font.weight"] = "bold"
plt.rcParams["mathtext.fontset"] = "custom"
plt.rcParams["mathtext.rm"] = "Liberation Sans:bold"
plt.rcParams["mathtext.it"] = "Liberation Sans:bold"
plt.rcParams["mathtext.bf"] = "Liberation Sans:bold"
plt.rcParams["axes.linewidth"] = 1.5

W, H = 1674, 1120
fig = plt.figure(figsize=(W / 100, H / 100), dpi=100)
fig.patch.set_facecolor("white")
ax = fig.add_axes([137 / W, 79 / H, 1532 / W, 979 / H])
ax.set_facecolor("white")

BLACK, RED, GREEN, BLUE = "#000000", "#ff0000", "#00c800", "#0000ff"
LW = 1.2


def draw(x, y, color, steps=False):
    df = pd.DataFrame({"wl": np.asarray(x, float), "flux": np.asarray(y, float) * SCALE})
    df = df.sort_values("wl", kind="stable")
    sns.lineplot(data=df, x="wl", y="flux", ax=ax, color=color, lw=LW,
                 estimator=None, sort=False, legend=False,
                 drawstyle="steps-mid" if steps else "default")


draw(top_wl, top_center, BLACK)
draw(top_wl, top_model, RED)
draw(top_wl, top_star, GREEN)
draw(res_wl + res_mid_wl, res_center + res_mid_center, BLACK, steps=True)
draw(res_wl + res_mid_wl, res_up + res_mid_up, RED, steps=True)
draw(res_wl + res_mid_wl, res_down + res_mid_down, GREEN, steps=True)
draw(res_wl, res_sky, BLUE, steps=True)

ax.set_xlim(1895.03, 1937.80)
ax.set_ylim(-3.80e-17, 2.788e-17)
ax.set_xlabel("")
ax.set_ylabel("")

ax.xaxis.set_major_locator(FixedLocator(wl_major))
ax.xaxis.set_minor_locator(MultipleLocator(1))
ax.xaxis.set_major_formatter(FuncFormatter(lambda v, p: f"{v:.0f}"))
ax.yaxis.set_major_locator(FixedLocator([k * 1e-17 for k in y_major]))
ax.yaxis.set_minor_locator(MultipleLocator(1e-18))


def yfmt(v, p):
    k = int(round(v / 1e-17))
    if k == 0:
        return "0"
    return f"{k}×10$^{{-17}}$"


ax.yaxis.set_major_formatter(FuncFormatter(yfmt))

ax.tick_params(axis="x", which="major", direction="in", length=15, width=1.1,
               bottom=True, top=False, labelsize=15, pad=15, colors="black")
ax.tick_params(axis="x", which="minor", direction="in", length=7.5, width=1.1,
               bottom=True, top=False)
ax.tick_params(axis="y", which="major", direction="in", length=23, width=1.1,
               left=True, right=True, labelsize=15, pad=5, colors="black")
ax.tick_params(axis="y", which="minor", direction="in", length=11, width=1.1,
               left=True, right=True)
for s in ax.spines.values():
    s.set_color("black")
    s.set_linewidth(1.5)


def wl2wn(x):
    x = np.asarray(x, float)
    with np.errstate(divide="ignore", invalid="ignore"):
        return 1e7 / x


secax = ax.secondary_xaxis("top", functions=(wl2wn, wl2wn))
secax.xaxis.set_major_locator(FixedLocator(wn_major))
secax.xaxis.set_minor_locator(MultipleLocator(5))
secax.xaxis.set_major_formatter(FuncFormatter(lambda v, p: f"{v:.0f}"))
secax.tick_params(axis="x", which="major", direction="in", length=14.5, width=1.1,
                  labelsize=15, pad=6)
secax.tick_params(axis="x", which="minor", direction="in", length=8.5, width=1.1)
secax.spines["top"].set_linewidth(1.5)


def ftxt(xp, yp, s, **kw):
    fig.text(xp / W, 1 - yp / H, s, **kw)


# axis titles
ftxt(903, 1103, "Wavelength [nm]", ha="center", va="center", fontsize=14.5)
ftxt(22, 555, "Flux [W cm-2 um-1]", ha="center", va="center", rotation=90, fontsize=14.5)
ftxt(903, 19, "Wavenumber [cm-1]", ha="center", va="center", fontsize=14.5)

# slide title (cut off at the top-left like the original)
ftxt(-37, 13, "Order # 40", ha="left", va="baseline", fontsize=34, fontweight="bold")

# legend-like labels
ftxt(173, 141, "Center - Order40", color=BLACK, va="center", fontsize=14)
ftxt(173, 181, "Model", color=RED, va="center", fontsize=14)
ftxt(173, 222, "Star", color=GREEN, va="center", fontsize=14)
ftxt(173, 710, "Center", color=BLACK, va="center", fontsize=14)
ftxt(173, 776, "Up", color=RED, va="center", fontsize=14)
ftxt(173, 840, "Down", color=GREEN, va="center", fontsize=14)
ftxt(173, 971, "Sky", color=BLUE, va="center", fontsize=14)

# annotations
ANN = 28.9
ftxt(625, 104, "Calibration of spectra with Transmittance", va="center",
     fontsize=ANN, fontweight="normal")
ftxt(625, 148, "Terrestrial Atmosphere Model. [Villanueva et al. 2015]", va="center",
     fontsize=ANN, fontweight="normal")
ftxt(662, 595, "Cometary spectra residual", va="center", fontsize=ANN, fontweight="normal")
ftxt(662, 640, "for nucleus and coma", va="center", fontsize=ANN, fontweight="normal")

fig.savefig("out.png", dpi=100, facecolor="white")
